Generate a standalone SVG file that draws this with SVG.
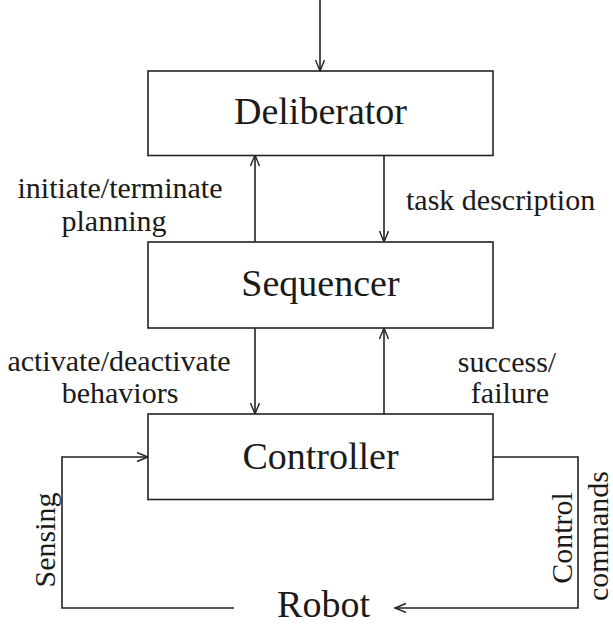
<svg xmlns="http://www.w3.org/2000/svg" width="613" height="624" viewBox="0 0 613 624" font-family="Liberation Serif, DejaVu Serif, serif">
<style>
.box{fill:#fff;stroke:#222;stroke-width:1.6}
.lbl{fill:#1a1a1a;font-family:'Liberation Serif','DejaVu Serif',serif}
.big{font-size:38px;text-anchor:middle}
.sm{font-size:30px}
.ln{fill:none;stroke:#222;stroke-width:1.6}
</style>
<defs>
<marker id="ah" markerUnits="userSpaceOnUse" markerWidth="14" markerHeight="12" refX="12" refY="5" orient="auto">
<path d="M1,0.5 L12,5 L1,9.5" fill="none" stroke="#222" stroke-width="1.4"/>
</marker>
</defs>
<g id="connectors">
<line class="ln" x1="320" y1="0" x2="320" y2="71" marker-end="url(#ah)"/>
<line class="ln" x1="255" y1="242" x2="255" y2="155" marker-end="url(#ah)"/>
<line class="ln" x1="384" y1="155" x2="384" y2="242" marker-end="url(#ah)"/>
<line class="ln" x1="255" y1="328" x2="255" y2="414" marker-end="url(#ah)"/>
<line class="ln" x1="384" y1="414" x2="384" y2="328" marker-end="url(#ah)"/>
<polyline class="ln" points="234,608 62,608 62,457 148,457" marker-end="url(#ah)"/>
<polyline class="ln" points="493,457 578,457 578,608 395,608" marker-end="url(#ah)"/>
<text class="lbl sm" x="120" y="198" text-anchor="middle" font-family="Liberation Serif">initiate/terminate</text>
<text class="lbl sm" x="114" y="231" text-anchor="middle" font-family="Liberation Serif">planning</text>
<text class="lbl sm" x="406" y="210" font-family="Liberation Serif">task description</text>
<text class="lbl sm" x="119" y="371" text-anchor="middle" font-family="Liberation Serif">activate/deactivate</text>
<text class="lbl sm" x="120" y="403" text-anchor="middle" font-family="Liberation Serif">behaviors</text>
<text class="lbl sm" x="507" y="372" text-anchor="middle" font-family="Liberation Serif">success/</text>
<text class="lbl sm" x="510" y="403" text-anchor="middle" font-family="Liberation Serif">failure</text>
<text class="lbl sm" text-anchor="middle" font-family="Liberation Serif" transform="translate(55,540) rotate(-90)">Sensing</text>
<text class="lbl sm" text-anchor="middle" font-family="Liberation Serif" transform="translate(571.5,538) rotate(-90)">Control</text>
<text class="lbl sm" text-anchor="middle" font-family="Liberation Serif" transform="translate(608,536) rotate(-90)">commands</text>
</g>
<g id="deliberator">
<rect class="box" x="148" y="71" width="345" height="84.5"/>
<text class="lbl big" x="320.5" y="124" font-family="Liberation Serif">Deliberator</text>
</g>
<g id="sequencer">
<rect class="box" x="148" y="242" width="345" height="86"/>
<text class="lbl big" x="320.5" y="296" font-family="Liberation Serif">Sequencer</text>
</g>
<g id="controller">
<rect class="box" x="148" y="414" width="345" height="85.5"/>
<text class="lbl big" x="320.5" y="469" font-family="Liberation Serif">Controller</text>
</g>
<g id="robot">
<text class="lbl big" x="323.5" y="617" font-family="Liberation Serif">Robot</text>
</g>
</svg>
